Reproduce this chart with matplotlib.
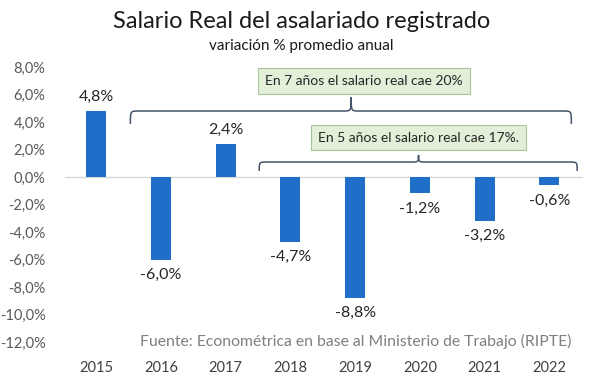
import matplotlib.pyplot as plt
import numpy as np
from matplotlib.path import Path
from matplotlib.patches import PathPatch

years = ["2015", "2016", "2017", "2018", "2019", "2020", "2021", "2022"]
variacion = [4.8, -6.0, 2.4, -4.7, -8.8, -1.2, -3.2, -0.6]
etiquetas = ["4,8%", "-6,0%", "2,4%", "-4,7%", "-8,8%", "-1,2%", "-3,2%", "-0,6%"]
y_ticks = [8, 6, 4, 2, 0, -2, -4, -6, -8, -10, -12]

plt.rcParams['font.family'] = ['Lato', 'DejaVu Sans']

BLUE = "#1f6fc8"
BRACE = "#44546a"
GREY = "#595959"


def brace(ax, x0, x1, xm, y, y_end, y_tip, rx=0.12):
    # curly brace: ends bent down, tip pointing up at xm
    verts = [
        (x0, y_end), (x0, y), (x0, y), (x0 + rx, y),
        (xm - rx, y),
        (xm, y), (xm, y), (xm, y_tip),
        (xm, y), (xm, y), (xm + rx, y),
        (x1 - rx, y),
        (x1, y), (x1, y), (x1, y_end),
    ]
    codes = [Path.MOVETO, Path.CURVE4, Path.CURVE4, Path.CURVE4,
             Path.LINETO,
             Path.CURVE4, Path.CURVE4, Path.CURVE4,
             Path.CURVE4, Path.CURVE4, Path.CURVE4,
             Path.LINETO,
             Path.CURVE4, Path.CURVE4, Path.CURVE4]
    ax.add_patch(PathPatch(Path(verts, codes), fill=False, ec=BRACE, lw=1.1))


fig = plt.figure(figsize=(6, 3.85), dpi=100)
ax = fig.add_axes([65 / 600, 43 / 385, 518 / 600, 275 / 385])

x = np.arange(len(years))
ax.bar(x, variacion, width=0.31, color=BLUE, zorder=3)
ax.axhline(0, color="#d9d9d9", lw=1, zorder=2)

for xi, v, lab in zip(x, variacion, etiquetas):
    if v >= 0:
        ax.text(xi, v + 0.55, lab, ha="center", va="bottom", fontsize=11.5, color="#262626")
    else:
        ax.text(xi, v - 0.6, lab, ha="center", va="top", fontsize=11.5, color="#262626")

ax.set_xlim(-0.48, 7.52)
ax.set_ylim(-12, 8)
ax.set_yticks(y_ticks)
ax.set_yticklabels([f"{t:.1f}%".replace(".", ",") for t in y_ticks], fontsize=10.5, color=GREY)
ax.set_xticks(x)
ax.set_xticklabels(years, fontsize=10.5, color="#404040")
ax.tick_params(length=0)
ax.tick_params(axis="x", pad=14)
ax.tick_params(axis="y", pad=14)
for s in ax.spines.values():
    s.set_visible(False)

brace(ax, 0.53, 7.34, 3.94, 4.8, 3.85, 5.8)
brace(ax, 2.52, 7.43, 4.98, 1.09, 0.44, 1.6)

box = dict(boxstyle="square,pad=0.5", fc="#e2efd9", ec="#a9c59a", lw=0.8)
ax.text(4.14, 6.98, "En 7 años el salario real cae 20%", ha="center", va="center",
        fontsize=10, color="#262626", bbox=box, zorder=4)
ax.text(4.98, 2.87, "En 5 años el salario real cae 17%.", ha="center", va="center",
        fontsize=10, color="#262626", bbox=box, zorder=4)

fig.text(571 / 600, 1 - 341 / 385, "Fuente: Econométrica en base al Ministerio de Trabajo (RIPTE)",
         ha="right", va="center", fontsize=11.3, color="#7f7f7f")

fig.text(0.502, 1 - 21 / 385, "Salario Real del asalariado registrado", ha="center", va="center",
         fontsize=17, color="#1a1a1a")
fig.text(0.502, 1 - 46 / 385, "variación % promedio anual", ha="center", va="center",
         fontsize=11, color="#1a1a1a")

fig.savefig("out.png", dpi=100)
